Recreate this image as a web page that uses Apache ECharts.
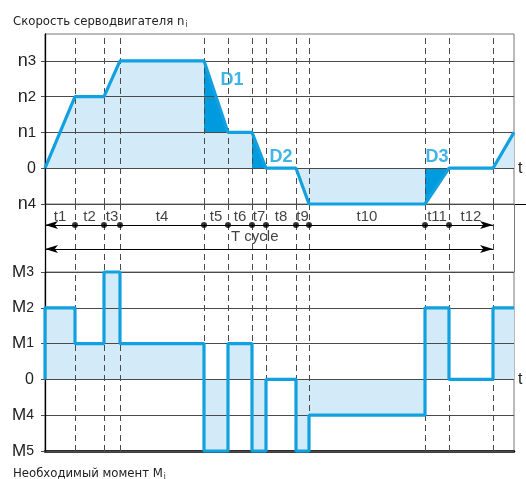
<!DOCTYPE html>
<html><head><meta charset="utf-8">
<script src="https://cdn.jsdelivr.net/npm/echarts@6/dist/echarts.min.js"></script>
<style>html,body{margin:0;padding:0;background:#fff}#c{width:526px;height:479px}</style>
</head><body><div id="c"></div>
<script>
// ---------------- DATA ----------------
// durations of the cycle intervals t1..t12 (time units) + lead-in of next cycle
const intervalNames = ['t1','t2','t3','t4','t5','t6','t7','t8','t9','t10','t11','t12'];
const durations     = [30, 29, 16, 84, 24, 24, 14, 30, 13, 116, 24, 44];
const nextCycleLead = 21;
// speed levels: value -1..3
const speedLevelNames = ['n4','0','n1','n2','n3'];
const speedLevelValues = [-1, 0, 1, 2, 3];
// speed at each interval boundary (14 boundaries)
const speedAtBoundary = [0, 2, 2, 3, 3, 1, 1, 0, 0, -1, -1, 0, 0, 1];
// torque levels: value -2..3
const torqueLevelNames = ['M5','M4','0','M1','M2','M3'];
const torqueLevelValues = [-2, -1, 0, 1, 2, 3];
// required torque during each interval t1..t12 and the next-cycle lead-in
const torquePerInterval = [2, 1, 3, 1, -2, 1, -2, 0, -2, -1, 2, 0, 2];
// braking zones (interval index) and their names
const brakingNames = ['D1','D2','D3'];
const brakingInterval = [4, 6, 10];
const cycleLabel = 'T cycle';
const titleTop = 'Скорость серводвигателя n';
const titleBottom = 'Необходимый момент M';

// ---------------- DERIVED ----------------
const boundaries = [0];
durations.concat([nextCycleLead]).forEach(d => boundaries.push(boundaries[boundaries.length-1] + d));
const tEnd = boundaries[boundaries.length-1];           // end of drawn time span
const cycleEnd = boundaries[durations.length];          // end of T cycle
const speedData = boundaries.map((b, i) => [b, speedAtBoundary[i]]);
const torqueData = [[0, 0]].concat(torquePerInterval.map((v, k) => [boundaries[k], v]), [[tEnd, torquePerInterval[torquePerInterval.length-1]]]);
const brakeData = brakingInterval.map(i => [boundaries[i], speedAtBoundary[i], boundaries[i+1], speedAtBoundary[i+1]]);
const innerBoundaries = boundaries.slice(1, durations.length + 1); // dashed lines
const dotBoundaries = boundaries.slice(1, durations.length);
const intervalMid = intervalNames.map((n, k) => [(boundaries[k] + boundaries[k+1]) / 2, n]);

const speedName = v => speedLevelNames[speedLevelValues.indexOf(v)];
const torqueName = v => torqueLevelNames[torqueLevelValues.indexOf(v)];

// ---------------- STYLE ----------------
const BLUE = '#12a1e0', DARK = '#009ade', FILL = '#d3ebf9';
const GRIDC = '#4a4a4a', DASHC = '#4a4a4a', BORDER = '#777';
const FONT = '"Liberation Sans", Arial, sans-serif';
const NARROW = '"Liberation Sans Narrow", "Arial Narrow", "DejaVu Sans Condensed", "Liberation Sans", sans-serif';
const PLOT_L = 45, PLOT_W = 469, PX = PLOT_W / tEnd;

const dashedLines = (extra) => ({
  silent: true, symbol: 'none', z: 2, animation: false,
  label: {show: false},
  lineStyle: {color: DASHC, width: 1, type: [6, 4]},
  data: innerBoundaries.map(b => ({xAxis: b})).concat(extra || [])
});
const tLabel = {yAxis: 0, lineStyle: {color: GRIDC, width: 1, type: 'solid'},
  label: {show: true, formatter: 't', position: 'end', distance: 4, fontSize: 16, color: '#222', fontFamily: FONT}};
const titleRich = {
  a: {fontFamily: NARROW, fontSize: 13, fontWeight: 'normal', color: '#222'},
  s: {fontFamily: NARROW, fontSize: 8, fontWeight: 'normal', color: '#222', padding: [7, 0, 0, 1]}
};

const chart = echarts.init(document.getElementById('c'), null, {renderer: 'canvas'});
const option = {
  animation: false,
  backgroundColor: '#fff',
  title: [
    {text: '{a|' + titleTop + '}{s|i}', left: 8, top: 9, textStyle: {fontWeight: 'normal', rich: titleRich}},
    {text: '{a|' + titleBottom + '}{s|i}', left: 8, top: 461, textStyle: {fontWeight: 'normal', rich: titleRich}}
  ],
  grid: [
    {left: PLOT_L, top: 34, width: PLOT_W, height: 170, show: true, borderColor: BORDER, borderWidth: 1},
    {left: PLOT_L, top: 204, right: 0, height: 68},
    {left: PLOT_L, top: 272, width: PLOT_W, height: 179, show: true, borderColor: BORDER, borderWidth: 1}
  ],
  xAxis: [
    {gridIndex: 0, type: 'value', min: 0, max: tEnd, show: false},
    {gridIndex: 1, type: 'value', min: 0, max: (526 - PLOT_L) / PX, position: 'top',
     axisLine: {show: true, onZero: false, lineStyle: {color: '#000', width: 1.2}},
     axisTick: {show: false}, axisLabel: {show: false}, splitLine: {show: false}},
    {gridIndex: 2, type: 'value', min: 0, max: tEnd, position: 'bottom',
     axisLine: {show: true, onZero: false, lineStyle: {color: '#000', width: 2.5}},
     axisTick: {show: false}, axisLabel: {show: false}, splitLine: {show: false}}
  ],
  yAxis: [
    {gridIndex: 0, type: 'value', min: -1, max: 3.75, interval: 1, z: 2,
     axisLine: {show: true, onZero: false, lineStyle: {color: '#000', width: 1.3}},
     axisTick: {show: true, length: 4, lineStyle: {color: GRIDC}},
     splitLine: {show: true, showMaxLine: false, lineStyle: {color: GRIDC, width: 1}},
     axisLabel: {margin: 9, showMaxLabel: false,
       formatter: v => { const n = speedName(v); if (!n) return ''; return n === '0' ? '{z|0}' : '{l|' + n[0] + '}{d|' + n.slice(1) + '}'; },
       rich: {l: {fontSize: 18, fontFamily: FONT, color: '#222'}, d: {fontSize: 15, fontFamily: FONT, color: '#222'}, z: {fontSize: 16, fontFamily: FONT, color: '#222'}}}},
    {gridIndex: 1, type: 'value', min: 0, max: 68, inverse: true,
     axisLine: {show: true, onZero: false, lineStyle: {color: '#000', width: 1.3}},
     axisTick: {show: false}, axisLabel: {show: false}, splitLine: {show: false}},
    {gridIndex: 2, type: 'value', min: -2, max: 3, interval: 1, z: 2,
     axisLine: {show: true, onZero: false, lineStyle: {color: '#000', width: 1.3}},
     axisTick: {show: true, length: 4, lineStyle: {color: GRIDC}},
     splitLine: {show: true, lineStyle: {color: GRIDC, width: 1}},
     axisLabel: {margin: 11,
       formatter: v => { const n = torqueName(v); if (!n) return ''; return n === '0' ? '{z|0}' : '{l|' + n[0] + '}{d|' + n.slice(1) + '}'; },
       rich: {l: {fontSize: 17, fontFamily: FONT, color: '#222'}, d: {fontSize: 14, fontFamily: FONT, color: '#222'}, z: {fontSize: 16, fontFamily: FONT, color: '#222'}}}}
  ],
  series: [
    // speed: fill
    {type: 'line', xAxisIndex: 0, yAxisIndex: 0, data: speedData, z: 1, showSymbol: false, silent: true,
     lineStyle: {width: 0}, areaStyle: {color: FILL, opacity: 1}},
    // braking triangles
    {type: 'custom', xAxisIndex: 0, yAxisIndex: 0, data: brakeData, z: 1.5, silent: true,
     encode: {x: [0, 2], y: [1, 3]},
     renderItem: (params, api) => {
       const a = api.coord([api.value(0), api.value(1)]);
       const b = api.coord([api.value(0), api.value(3)]);
       const c = api.coord([api.value(2), api.value(3)]);
       return {type: 'polygon', shape: {points: [a, b, c]}, style: {fill: DARK}};
     }},
    // speed: dashed lines host + line
    {type: 'line', xAxisIndex: 0, yAxisIndex: 0, data: speedData, z: 3, showSymbol: false, silent: true, clip: false,
     lineStyle: {color: BLUE, width: 3.2}, markLine: dashedLines([tLabel])},
    // braking labels
    {type: 'scatter', xAxisIndex: 0, yAxisIndex: 0, symbolSize: 0, z: 4, silent: true,
     data: [[boundaries[5] + 4, 2.46, brakingNames[0]], [boundaries[7] + 15, 0.3, brakingNames[1]], [(boundaries[10] + boundaries[11]) / 2, 0.3, brakingNames[2]]],
     label: {show: true, position: 'inside', formatter: p => p.value[2], color: BLUE, fontSize: 18, fontWeight: 'bold', fontFamily: FONT}},
    // middle: dashes, right border, dots
    {type: 'scatter', xAxisIndex: 1, yAxisIndex: 1, symbolSize: 6, z: 4, silent: true,
     itemStyle: {color: '#000'}, data: dotBoundaries.map(b => [b, 21]),
     markLine: dashedLines([{xAxis: tEnd, lineStyle: {color: BORDER, type: 'solid', width: 1}}])},
    // middle: arrows
    {type: 'scatter', xAxisIndex: 1, yAxisIndex: 1, symbolSize: 0, z: 3, silent: true, data: [],
     markLine: {silent: true, z: 3, animation: false, symbol: ['arrow', 'arrow'], symbolSize: [6, 13], label: {show: false},
       lineStyle: {color: '#000', width: 1, type: 'solid'},
       data: [[{coord: [0, 21]}, {coord: [cycleEnd, 21]}], [{coord: [0, 45]}, {coord: [cycleEnd, 45]}]]}},
    // middle: interval labels
    {type: 'scatter', xAxisIndex: 1, yAxisIndex: 1, symbolSize: 0, z: 4, silent: true,
     data: intervalMid.map(m => [m[0], 13, m[1]]),
     label: {show: true, position: 'inside', formatter: p => p.value[2], color: '#111', fontSize: 15, fontFamily: FONT}},
    {type: 'scatter', xAxisIndex: 1, yAxisIndex: 1, symbolSize: 0, z: 4, silent: true,
     data: [[boundaries[5] + 3, 33, cycleLabel]],
     label: {show: true, position: 'right', distance: 0, formatter: p => p.value[2], color: '#111', fontSize: 15, fontFamily: FONT}},
    // torque: fill
    {type: 'line', xAxisIndex: 2, yAxisIndex: 2, data: torqueData, step: 'end', z: 1, showSymbol: false, silent: true,
     lineStyle: {width: 0}, areaStyle: {color: FILL, opacity: 1}},
    // torque: line + dashes
    {type: 'line', xAxisIndex: 2, yAxisIndex: 2, data: torqueData, step: 'end', z: 3, showSymbol: false, silent: true, clip: false,
     lineStyle: {color: BLUE, width: 3.2}, markLine: dashedLines([tLabel])}
  ]
};
chart.setOption(option);
</script></body></html>
